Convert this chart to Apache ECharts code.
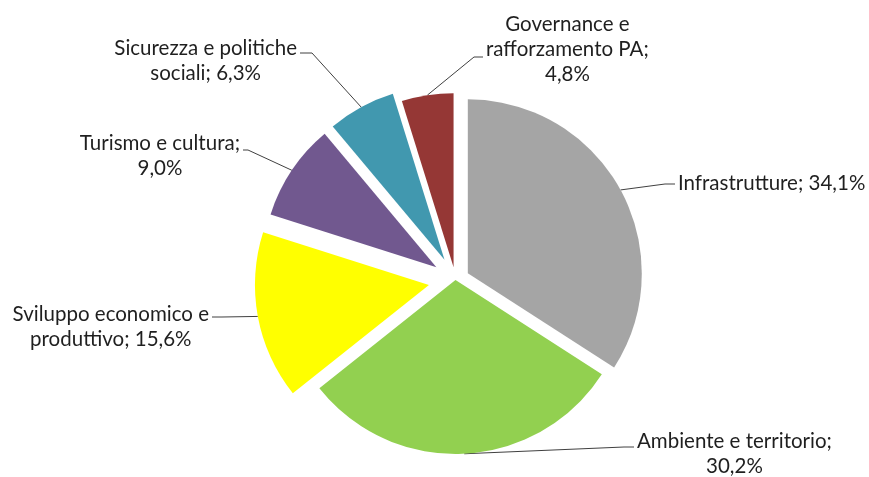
<!DOCTYPE html>
<html>
<head>
<meta charset="utf-8">
<script src="https://cdn.jsdelivr.net/npm/echarts@6/dist/echarts.min.js"></script>
<style>
  html, body { margin: 0; padding: 0; background: #ffffff; }
  #chart { width: 869px; height: 477px; }
</style>
</head>
<body>
<div id="chart"></div>
<script>
// Sectors of intervention and their share of resources (%)
const categories = [
  'Infrastrutture',
  'Ambiente e territorio',
  'Sviluppo economico e produttivo',
  'Turismo e cultura',
  'Sicurezza e politiche sociali',
  'Governance e rafforzamento PA'
];
const shares = [34.1, 30.2, 15.6, 9.0, 6.3, 4.8];
const sliceColors = ['#A5A5A5', '#92D050', '#FFFF00', '#71588F', '#4198AF', '#953735'];

// How far each slice is pulled away from the centre, in px
const explodeOffsets = [14, 0, 27, 23, 23, 13];

// Label blocks: anchor x, middle y, alignment, height where the leader meets it, length of the flat stub
const labelPlacement = [
  { x: 678, y: 183,   align: 'left',  lineY: 184, stub: 10 },
  { x: 637, y: 453.5, align: 'left',  lineY: 447, stub: 10 },
  { x: 209, y: 326.5, align: 'right', lineY: 317, stub: 10 },
  { x: 240, y: 155.5, align: 'right', lineY: 150, stub: 5 },
  { x: 297, y: 60.5,  align: 'right', lineY: 53,  stub: 12 },
  { x: 486, y: 49.5,  align: 'left',  lineY: 57,  stub: 9 }
];
// Word counts after which each label wraps onto a new line
const labelWraps = [[], [3], [3], [3], [3], [2, 4]];

const CX = 455.5, CY = 280, R = 174;
const FONT = 'Lato';

function labelText(i) {
  const pct = shares[i].toFixed(1).replace('.', ',') + '%';
  const words = (categories[i] + '; ' + pct).split(' ');
  const lines = [];
  let cur = [];
  words.forEach((w, k) => {
    cur.push(w);
    if (labelWraps[i].indexOf(k + 1) !== -1) { lines.push(cur.join(' ')); cur = []; }
  });
  if (cur.length) lines.push(cur.join(' '));
  return lines.map(l => '{c|' + l + '}').join('\n');
}

const total = shares.reduce((a, b) => a + b, 0);
let cumulative = 0;
const series = shares.map((v, i) => {
  const mid = (cumulative + v / 2) / total * 2 * Math.PI;
  cumulative += v;
  const d = explodeOffsets[i];
  return {
    type: 'pie',
    radius: R,
    center: [CX + d * Math.sin(mid), CY - d * Math.cos(mid)],
    startAngle: 90,
    clockwise: true,
    avoidLabelOverlap: false,
    silent: true,
    animation: false,
    label: {
      show: true,
      position: 'outside',
      formatter: p => labelText(p.dataIndex),
      rich: {
        c: { align: 'center', fontFamily: FONT, fontSize: 20.5, lineHeight: 25, color: '#1f1f1f' }
      }
    },
    labelLine: {
      show: true,
      smooth: false,
      lineStyle: { color: '#404040', width: 1 }
    },
    labelLayout: p => {
      const pl = labelPlacement[p.dataIndex];
      const dir = pl.align === 'left' ? -1 : 1;
      const edge = pl.x + dir * 3;
      const start = p.labelLinePoints ? p.labelLinePoints[0] : [edge, pl.lineY];
      return {
        x: pl.x,
        y: pl.y,
        align: pl.align,
        verticalAlign: 'middle',
        labelLinePoints: [start, [edge + dir * pl.stub, pl.lineY], [edge, pl.lineY]]
      };
    },
    data: categories.map((name, j) => ({
      name: name,
      value: shares[j],
      itemStyle: { color: j === i ? sliceColors[j] : 'rgba(0,0,0,0)' },
      label: { show: j === i },
      labelLine: { show: j === i }
    }))
  };
});

const chart = echarts.init(document.getElementById('chart'), null, { renderer: 'canvas' });
chart.setOption({
  backgroundColor: '#ffffff',
  animation: false,
  series: series
});
</script>
</body>
</html>
